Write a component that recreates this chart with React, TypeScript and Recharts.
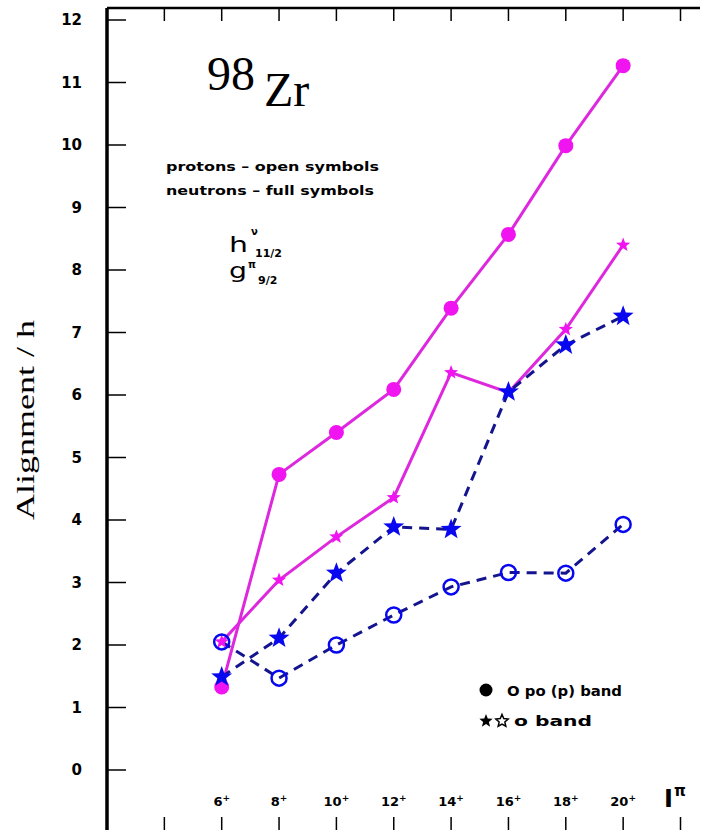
import { LineChart, Line, XAxis, YAxis, Customized } from "recharts";

// spins I (the x values) and the tick marks along the frame
const spins = [6, 8, 10, 12, 14, 16, 18, 20];
const xTicks = [4, 6, 8, 10, 12, 14, 16, 18, 20, 22];
const xLabels = ["6", "8", "10", "12", "14", "16", "18", "20"];
const yTicks = [0, 1, 2, 3, 4, 5, 6, 7, 8, 9, 10, 11, 12];

// alignment values
const magentaCircles = [1.33, 4.73, 5.4, 6.09, 7.39, 8.57, 9.99, 11.27];
const magentaStars = [2.05, 3.04, 3.73, 4.36, 6.36, 6.04, 7.05, 8.4];
const blueStars = [1.49, 2.11, 3.15, 3.89, 3.85, 6.05, 6.8, 7.26];
const blueCircles = [2.05, 1.47, 2.0, 2.48, 2.93, 3.16, 3.15, 3.93];

const MAGENTA = "#f014f0";
const MAGENTA_LINE = "#de28de";
const BLUE = "#0808f0";
const NAVY = "#14148f";
const TICK_FONT = "'DejaVu Sans', 'Liberation Sans', sans-serif";
const SERIF = "'Liberation Serif', 'DejaVu Serif', serif";

const X_DOMAIN: [number, number] = [2, 22.68];
const Y_DOMAIN: [number, number] = [-0.96, 12.192];

const data = spins.map((s, i) => ({
  spin: s,
  mc: magentaCircles[i],
  ms: magentaStars[i],
  bs: blueStars[i],
  bc: blueCircles[i],
}));

function starPath(cx: number, cy: number, R: number, r: number) {
  let d = "";
  for (let k = 0; k < 10; k++) {
    const rad = k % 2 === 0 ? R : r;
    const a = -Math.PI / 2 + (k * Math.PI) / 5;
    d += (k === 0 ? "M" : "L") + (cx + rad * Math.cos(a)).toFixed(2) + "," + (cy + rad * Math.sin(a)).toFixed(2);
  }
  return d + "Z";
}

const FullCircle = (p: any) => <circle key={p.index} cx={p.cx} cy={p.cy} r={7.5} fill={MAGENTA} />;
const OpenCircle = (p: any) => (
  <circle key={p.index} cx={p.cx} cy={p.cy} r={7.5} fill="none" stroke={BLUE} strokeWidth={2.5} />
);
const SmallStar = (p: any) => <path key={p.index} d={starPath(p.cx, p.cy, 7.5, 3.2)} fill={MAGENTA} />;
const BigStar = (p: any) => <path key={p.index} d={starPath(p.cx, p.cy, 11, 4.6)} fill={BLUE} />;

const BottomTick = (p: any) => {
  const v = p.payload.value;
  const show = xLabels.includes(String(v));
  return (
    <g>
      <line x1={p.x} x2={p.x} y1={p.y - 13} y2={p.y} stroke="#000" strokeWidth={1.5} />
      {show && (
        <text x={p.x} y={p.y - 24} textAnchor="middle" fontFamily={TICK_FONT} fontWeight="bold" fontSize={13} fill="#000">
          {v}
          <tspan fontSize={9} dy={-5}>+</tspan>
        </text>
      )}
    </g>
  );
};

const TopTick = (p: any) => (
  <line x1={p.x} x2={p.x} y1={p.y} y2={p.y + 13} stroke="#000" strokeWidth={1.5} />
);

const LeftTick = (p: any) => (
  <g>
    <line x1={p.x} x2={p.x + 19} y1={p.y} y2={p.y} stroke="#000" strokeWidth={1.5} />
    <text x={p.x - 25} y={p.y + 5} textAnchor="end" fontFamily={TICK_FONT} fontWeight="bold" fontSize={15} fill="#000">
      {p.payload.value}
    </text>
  </g>
);

const RightTick = (p: any) => (
  <line x1={p.x - 9} x2={p.x} y1={p.y} y2={p.y} stroke="#000" strokeWidth={1.5} />
);

const Annotations = () => (
  <g>
    <text x={34} y={420} transform="rotate(-90 34 420)" textAnchor="middle" fontFamily={SERIF} fontSize={26} textLength={200} lengthAdjust="spacingAndGlyphs" fill="#000">
      Alignment / h
    </text>

    <text x={207} y={90} fontFamily={SERIF} fontSize={48} fill="#000">98</text>
    <text x={264} y={106} fontFamily={SERIF} fontSize={48} fill="#000">Zr</text>

    <text x={166} y={171} fontFamily={TICK_FONT} fontWeight="bold" fontSize={13} textLength={213} lengthAdjust="spacingAndGlyphs" fill="#000">
      protons – open symbols
    </text>
    <text x={166} y={195} fontFamily={TICK_FONT} fontWeight="bold" fontSize={13} textLength={208} lengthAdjust="spacingAndGlyphs" fill="#000">
      neutrons – full symbols
    </text>

    <text x={229} y={252} fontFamily={TICK_FONT} fontSize={22} textLength={19} lengthAdjust="spacingAndGlyphs" fill="#000">h</text>
    <text x={251} y={235} fontFamily={TICK_FONT} fontWeight="bold" fontSize={10} fill="#000">ν</text>
    <text x={255} y={257} fontFamily={TICK_FONT} fontWeight="bold" fontSize={11} fill="#000">11/2</text>
    <text x={229} y={278} fontFamily={TICK_FONT} fontSize={22} textLength={18} lengthAdjust="spacingAndGlyphs" fill="#000">g</text>
    <text x={248} y={268} fontFamily={TICK_FONT} fontWeight="bold" fontSize={10} fill="#000">π</text>
    <text x={258} y={284} fontFamily={TICK_FONT} fontWeight="bold" fontSize={11} fill="#000">9/2</text>

    <text x={664} y={807} fontFamily={TICK_FONT} fontWeight="bold" fontSize={24} fill="#000">I</text>
    <text x={674} y={796} fontFamily={TICK_FONT} fontWeight="bold" fontSize={15} fill="#000">π</text>

    <circle cx={486} cy={690} r={6.5} fill="#000" />
    <text x={507} y={696} fontFamily={TICK_FONT} fontWeight="bold" fontSize={14} textLength={115} lengthAdjust="spacingAndGlyphs" fill="#000">
      O po (p) band
    </text>
    <path d={starPath(486, 721, 7, 3)} fill="#000" />
    <path d={starPath(502, 721, 6.5, 3)} fill="none" stroke="#000" strokeWidth={1.5} />
    <text x={514} y={726} fontFamily={TICK_FONT} fontWeight="bold" fontSize={14} textLength={78} lengthAdjust="spacingAndGlyphs" fill="#000">
      o band
    </text>
  </g>
);

export default function App() {
  return (
    <div style={{ position: "absolute", left: 0, top: 0, width: 701, height: 831, background: "#fff" }}>
      <LineChart width={701} height={831} data={data} margin={{ top: 0, right: 0, left: 0, bottom: 0 }}>
        <XAxis
          xAxisId="b"
          dataKey="spin"
          type="number"
          domain={X_DOMAIN}
          ticks={xTicks}
          interval={0}
          height={1}
          tickSize={0}
          tickMargin={0}
          axisLine={false}
          tick={BottomTick}
        />
        <XAxis
          xAxisId="t"
          orientation="top"
          dataKey="spin"
          type="number"
          domain={X_DOMAIN}
          ticks={xTicks}
          interval={0}
          height={8}
          tickSize={0}
          tickMargin={0}
          axisLine={{ stroke: "#000", strokeWidth: 2.5 }}
          tick={TopTick}
        />
        <YAxis
          yAxisId="l"
          type="number"
          domain={Y_DOMAIN}
          ticks={yTicks}
          interval={0}
          width={107}
          tickSize={0}
          tickMargin={0}
          axisLine={{ stroke: "#000", strokeWidth: 3.5 }}
          tick={LeftTick}
        />
        <YAxis
          yAxisId="r"
          orientation="right"
          type="number"
          domain={Y_DOMAIN}
          ticks={yTicks}
          interval={0}
          width={1}
          tickSize={0}
          tickMargin={0}
          axisLine={false}
          tick={RightTick}
        />
        <Line xAxisId="b" yAxisId="l" dataKey="mc" stroke={MAGENTA_LINE} strokeWidth={3} dot={FullCircle} activeDot={false} isAnimationActive={false} />
        <Line xAxisId="b" yAxisId="l" dataKey="ms" stroke={MAGENTA_LINE} strokeWidth={3} dot={SmallStar} activeDot={false} isAnimationActive={false} />
        <Line xAxisId="b" yAxisId="l" dataKey="bc" stroke={NAVY} strokeWidth={3} strokeDasharray="10 7" dot={OpenCircle} activeDot={false} isAnimationActive={false} />
        <Line xAxisId="b" yAxisId="l" dataKey="bs" stroke={NAVY} strokeWidth={3} strokeDasharray="10 7" dot={BigStar} activeDot={false} isAnimationActive={false} />
        <Customized component={Annotations} />
      </LineChart>
    </div>
  );
}
